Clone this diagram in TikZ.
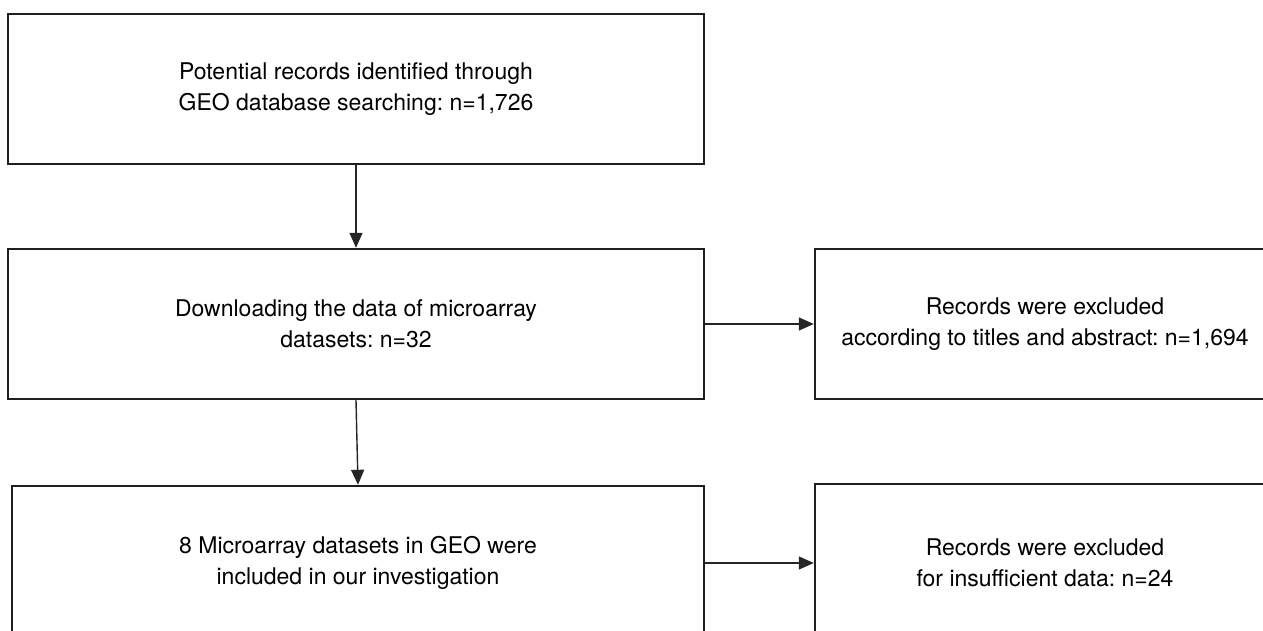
\documentclass[tikz,border=0pt]{standalone}
\usepackage{fontspec}
\setmainfont{TeX Gyre Heros}
\usetikzlibrary{arrows.meta}
\frenchspacing

\begin{document}
\begin{tikzpicture}[x=1pt, y=-1pt,
		stage/.style={draw=black!88, line width=2.4pt, rectangle, align=center, font=\fontsize{23}{31}\selectfont, inner sep=0pt},
		flow/.style={draw=black!85, line width=1.4pt, -{Triangle[length=15pt,width=13pt]}}]
		
		\clip (0,0) rectangle (1263,631);
		\fill[white] (0,0) rectangle (1263,631);
		
		\node[stage, minimum width=696pt, minimum height=150pt] (search) at (356,89) {Potential records identified through\\GEO database searching: n=1,726};
		\node[stage, minimum width=696pt, minimum height=150pt] (download) at (356,324) {Downloading the data of microarray\\datasets: n=32};
		\node[stage, minimum width=692pt, minimum height=154pt] (included) at (358,563) {8 Microarray datasets in GEO were\\included in our investigation};
		
		\node[stage, minimum width=460pt, minimum height=150pt] (excltitle) at (1045,324) {Records were excluded\\according to titles and abstract: n=1,694};
		\node[stage, minimum width=460pt, minimum height=158pt] (excldata) at (1045,563) {Records were excluded\\for insufficient data: n=24};
		
		\draw[flow] (search.south) -- (download.north);
		\draw[flow] (download.south) -- (included.north);
		\draw[flow] (download.east) -- (excltitle.west);
		\draw[flow] (included.east) -- (excldata.west);
		
	\end{tikzpicture}
\end{document}
